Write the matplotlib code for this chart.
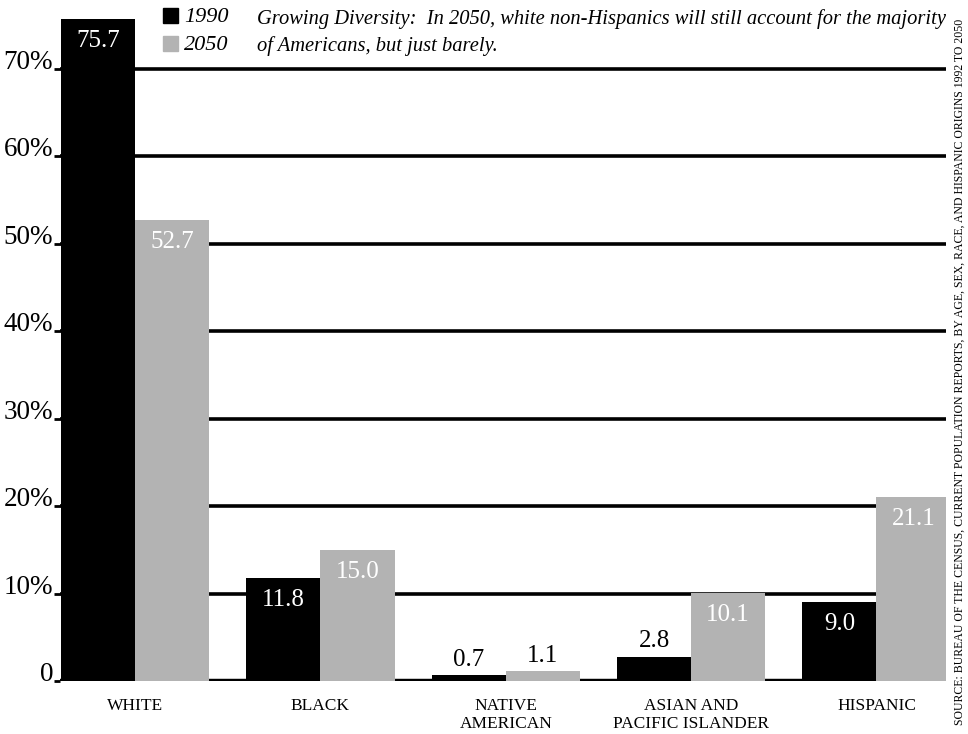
import matplotlib
matplotlib.use("Agg")
import matplotlib.pyplot as plt
import numpy as np
from matplotlib.patches import Rectangle

categories = ["WHITE", "BLACK", "NATIVE\nAMERICAN", "ASIAN AND\nPACIFIC ISLANDER", "HISPANIC"]
values_1990 = [75.7, 11.8, 0.7, 2.8, 9.0]
values_2050 = [52.7, 15.0, 1.1, 10.1, 21.1]
series_names = ["1990", "2050"]
yticks = [0, 10, 20, 30, 40, 50, 60, 70]
ytick_labels = ["0", "10%", "20%", "30%", "40%", "50%", "60%", "70%"]
title_text = ("Growing Diversity:  In 2050, white non-Hispanics will still account for the majority\n"
              "of Americans, but just barely.")
source_text = ("SOURCE: BUREAU OF THE CENSUS, CURRENT POPULATION REPORTS, BY AGE, SEX, RACE, "
               "AND HISPANIC ORIGINS 1992 TO 2050")

BLACK = "#000000"
GRAY = "#b3b3b3"
FONT = "Liberation Serif"
plt.rcParams["font.family"] = FONT

W, H = 968, 734
fig = plt.figure(figsize=(W / 100, H / 100), dpi=100)
ax = fig.add_axes([60 / W, 53 / H, (946 - 60) / W, 681 / H])

x = np.arange(len(categories))
bw = 0.4
ax.bar(x - bw / 2, values_1990, bw, color=BLACK, zorder=3, linewidth=0)
ax.bar(x + bw / 2, values_2050, bw, color=GRAY, zorder=3, linewidth=0)

VFS = 18
for offs, vals in ((-bw / 2, values_1990), (bw / 2, values_2050)):
    for i, v in enumerate(vals):
        if v > 5:
            ax.annotate(f"{v:.1f}", (x[i] + offs, v), xytext=(0, -8), textcoords="offset points",
                        ha="center", va="top", color="white", fontsize=VFS, zorder=5)
        else:
            ax.annotate(f"{v:.1f}", (x[i] + offs, v), xytext=(0, 3), textcoords="offset points",
                        ha="center", va="bottom", color="black", fontsize=VFS, zorder=5)

ax.set_xlim(-0.405, 4.375)
ax.set_ylim(0, 77.9)
for yv in yticks:
    ax.axhline(yv, color="black", linewidth=2.6 if yv else 3.2, zorder=2)

ax.set_yticks(yticks)
ax.set_yticklabels(ytick_labels, fontsize=19.5, va="baseline")
ax.set_xticks(x)
ax.set_xticklabels(categories, fontsize=12.5, linespacing=1.2)
ax.tick_params(axis="y", length=4, width=2, pad=1)
ax.tick_params(axis="x", length=0, pad=12)
for s in ax.spines.values():
    s.set_visible(False)

# legend
fig.patches.append(Rectangle((163 / W, 1 - 23 / H), 15 / W, 15 / H, transform=fig.transFigure,
                             color=BLACK, figure=fig))
fig.patches.append(Rectangle((163 / W, 1 - 51 / H), 15 / W, 15 / H, transform=fig.transFigure,
                             color=GRAY, figure=fig))
fig.text(184 / W, 1 - 17 / H, series_names[0], fontsize=16, style="italic", va="center", ha="left")
fig.text(184 / W, 1 - 45 / H, series_names[1], fontsize=16, style="italic", va="center", ha="left")

fig.text(257 / W, 1 - 9 / H, title_text, fontsize=14.8, style="italic", va="top", ha="left",
         linespacing=1.5)

fig.text(960 / W, 9 / H, source_text, fontsize=8.5, rotation=90, va="bottom", ha="center")

fig.savefig("out.png", dpi=100)
